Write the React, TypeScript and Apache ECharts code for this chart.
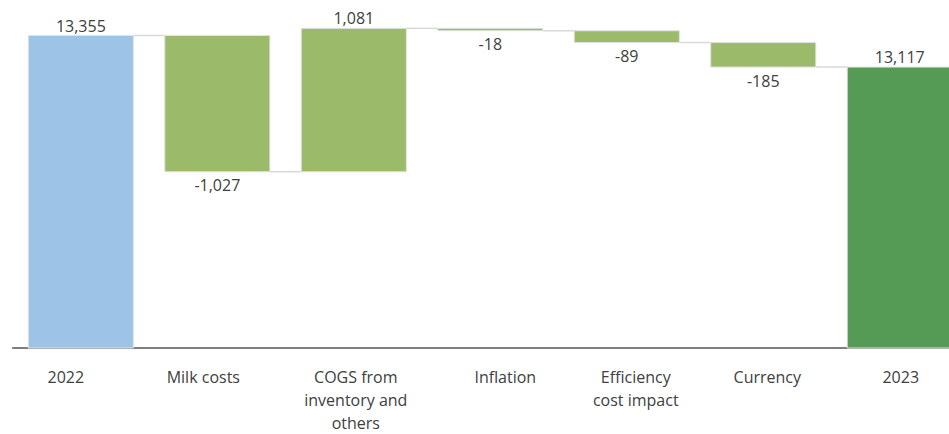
import React, { useEffect, useRef } from "react";
import * as echarts from "echarts";

const categories = [
  "2022",
  "Milk costs",
  "COGS from\ninventory and\nothers",
  "Inflation",
  "Efficiency\ncost impact",
  "Currency",
  "2023",
];
const changes = [13355, -1027, 1081, -18, -89, -185, 13117];
const isTotal = [true, false, false, false, false, false, true];
const barColors = ["#9DC3E6", "#9BBB6A", "#9BBB6A", "#9BBB6A", "#9BBB6A", "#9BBB6A", "#559A55"];
const yMin = 11000;
const yMax = 13600;
// horizontal nudge of each category label (style only)
const labelShift = [-15, -14, 2, 15, 9, 4, 1];

function buildData() {
  let running = 0;
  return changes.map((v, i) => {
    let low: number, high: number, end: number;
    if (isTotal[i]) {
      low = 0;
      high = v;
      end = v;
    } else {
      const start = running;
      end = running + v;
      low = Math.min(start, end);
      high = Math.max(start, end);
    }
    running = end;
    return [i, low, high, end, v];
  });
}

export default function App() {
  const ref = useRef<HTMLDivElement>(null);
  useEffect(() => {
    if (!ref.current) return;
    const chart = echarts.init(ref.current, null, { renderer: "svg" });
    const data = buildData();
    const font = "'Open Sans', 'Noto Sans', sans-serif";
    const axisData = categories.map((c, i) => {
      const s = labelShift[i];
      return {
        value: c,
        textStyle: { padding: s >= 0 ? [0, 0, 0, 2 * s] : [0, -2 * s, 0, 0] },
      };
    });
    chart.setOption({
      animation: false,
      grid: { left: 12.6, right: 0, top: 3, height: 346, containLabel: false },
      xAxis: {
        type: "category",
        data: axisData,
        axisLine: { show: true, lineStyle: { color: "#555555", width: 1.5 } },
        axisTick: { show: false },
        axisLabel: {
          interval: 0,
          color: "#404040",
          fontSize: 16,
          fontFamily: font,
          lineHeight: 23,
          margin: 17,
        },
        splitLine: { show: false },
      },
      yAxis: {
        type: "value",
        min: yMin,
        max: yMax,
        show: false,
        splitLine: { show: false },
      },
      series: [
        {
          type: "custom",
          data,
          encode: { x: 0, y: [1, 2, 3] },
          renderItem: (params: any, api: any) => {
            const i = api.value(0);
            const low = api.value(1);
            const high = api.value(2);
            const end = api.value(3);
            const change = api.value(4);
            const cs = params.coordSys;
            const band = api.size([1, 0])[0];
            const bw = band * 0.77;
            const pHigh = api.coord([i, high]);
            const pLow = api.coord([i, low]);
            const yBottom = Math.min(pLow[1], cs.y + cs.height);
            const x = pHigh[0] - bw / 2;
            const children: any[] = [];
            if (i < categories.length - 1) {
              const pEnd = api.coord([i, end]);
              const pNext = api.coord([i + 1, end]);
              children.push({
                type: "line",
                shape: { x1: x + bw, y1: pEnd[1], x2: pNext[0] - bw / 2, y2: pEnd[1] },
                style: { stroke: "#D9D9D9", lineWidth: 1.5 },
              });
            }
            children.push({
              type: "rect",
              shape: { x, y: pHigh[1], width: bw, height: yBottom - pHigh[1] },
              style: { fill: barColors[i], stroke: "#E2E2E2", lineWidth: 1 },
            });
            const neg = !isTotal[i] && change < 0;
            children.push({
              type: "text",
              x: pHigh[0],
              y: neg ? yBottom + 13.5 : pHigh[1] - 10,
              style: {
                text: change.toLocaleString("en-US"),
                fill: "#404040",
                fontSize: 16,
                fontFamily: font,
                align: "center",
                verticalAlign: "middle",
              },
            });
            return { type: "group", children };
          },
        },
      ],
    });
    return () => chart.dispose();
  }, []);
  return (
    <div style={{ position: "fixed", left: 0, top: 0, width: 949, height: 434, overflow: "hidden", background: "#fff" }}>
      <div ref={ref} style={{ width: 968, height: 434 }} />
    </div>
  );
}
